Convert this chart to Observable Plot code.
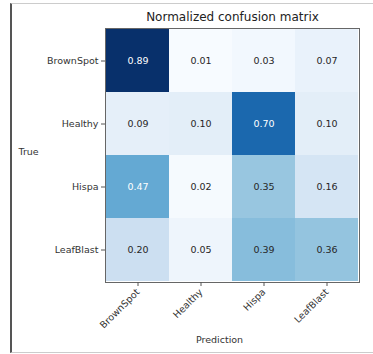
<!DOCTYPE html>
<html>
<head>
<meta charset="utf-8">
<script src="https://cdn.jsdelivr.net/npm/d3@7"></script>
<script src="https://cdn.jsdelivr.net/npm/@observablehq/plot@0.6"></script>
<style>
  html, body { margin: 0; padding: 0; background: white; }
  #wrap { position: relative; width: 373px; height: 354px; }
  #deco { position: absolute; left: 10px; top: 3px; width: 363px; height: 348px;
          border-left: 2px solid #555; border-top: 1px solid #ccc; border-bottom: 1px solid #ccc;
          pointer-events: none; }
</style>
</head>
<body>
<div id="wrap"><div id="deco"></div></div>
<script>
const classes = ["BrownSpot", "Healthy", "Hispa", "LeafBlast"];
const rowBrownSpot = [0.89, 0.01, 0.03, 0.07];
const rowHealthy   = [0.09, 0.10, 0.70, 0.10];
const rowHispa     = [0.47, 0.02, 0.35, 0.16];
const rowLeafBlast = [0.20, 0.05, 0.39, 0.36];
const rows = [rowBrownSpot, rowHealthy, rowHispa, rowLeafBlast];
const title = "Normalized confusion matrix";
const xLabel = "Prediction";
const yLabel = "True";

const data = [];
rows.forEach((r, i) => r.forEach((v, j) => data.push({truth: classes[i], pred: classes[j], v})));
const vmin = d3.min(data, d => d.v), vmax = d3.max(data, d => d.v);
const thresh = vmax / 2;

const chart = Plot.plot({
  width: 373,
  height: 354,
  marginLeft: 105,
  marginRight: 14,
  marginTop: 28,
  marginBottom: 72,
  style: {fontFamily: "DejaVu Sans", fontSize: "9.5px", color: "#333", background: "transparent"},
  x: {domain: classes, padding: 0, label: null},
  y: {domain: classes, padding: 0, label: null},
  color: {type: "linear", scheme: "blues", domain: [vmin, vmax]},
  marks: [
    Plot.cell(data, {x: "pred", y: "truth", fill: "v", inset: 0}),
    Plot.text(data, {x: "pred", y: "truth", text: d => d.v.toFixed(2), fill: "white", fontSize: 9.5, filter: d => d.v > thresh}),
    Plot.text(data, {x: "pred", y: "truth", text: d => d.v.toFixed(2), fill: "#262626", fontSize: 9.5, filter: d => d.v <= thresh}),
    Plot.frame({stroke: "#666"}),
    Plot.axisX({tickRotate: -45, tickSize: 4, tickPadding: 4, label: null, stroke: "#555"}),
    Plot.axisY({tickSize: 4, tickPadding: 3, label: null, stroke: "#555"}),
    Plot.text([title], {frameAnchor: "top", dy: -11, lineAnchor: "middle", fontSize: 12, fill: "#222"}),
    Plot.text([yLabel], {frameAnchor: "left", dx: -87, dy: -4, textAnchor: "start", fontSize: 9.5, fill: "#333"}),
    Plot.text([xLabel], {frameAnchor: "bottom", dx: -13, dy: 60, fontSize: 9.5, fill: "#333"})
  ]
});
document.getElementById("wrap").prepend(chart);
</script>
</body>
</html>
